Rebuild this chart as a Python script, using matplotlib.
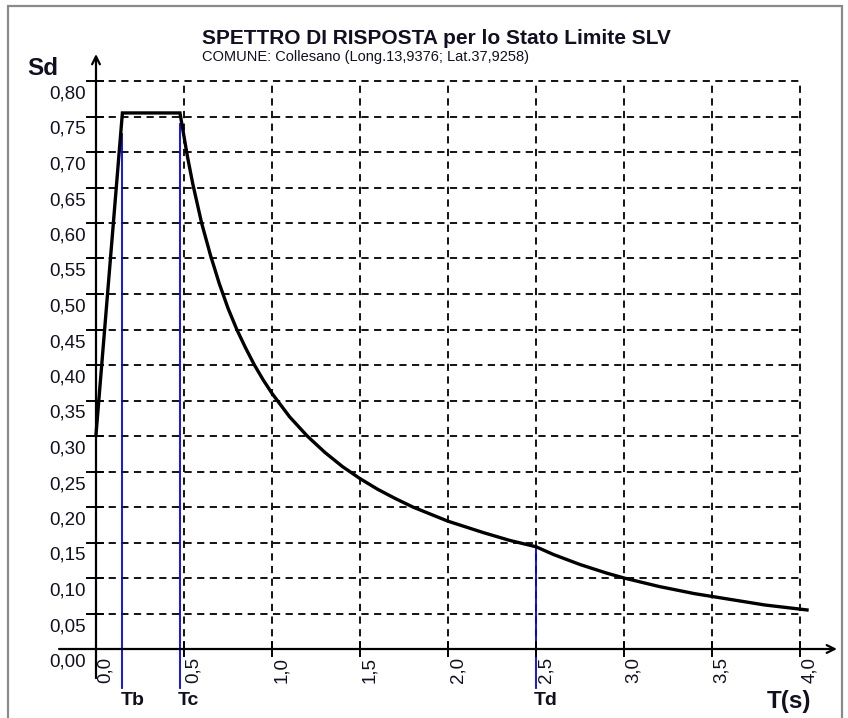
import numpy as np
import matplotlib.pyplot as plt
from matplotlib.patches import Rectangle
from matplotlib.transforms import offset_copy

plt.rcParams['font.family'] = ['Liberation Sans', 'DejaVu Sans']

# periods and spectral ordinates
T = [0.0, 0.15, 0.477, 0.52, 0.55, 0.60, 0.65, 0.70, 0.75, 0.80, 0.85, 0.90,
     0.95, 1.00, 1.10, 1.20, 1.30, 1.40, 1.50, 1.60, 1.70, 1.80, 1.90, 2.00,
     2.10, 2.20, 2.35, 2.50, 2.60, 2.75, 2.90, 3.00, 3.20, 3.40, 3.60, 3.80, 4.04]
Sd = [0.302, 0.755, 0.755, 0.693, 0.655, 0.600, 0.555, 0.515, 0.480, 0.450,
      0.424, 0.400, 0.379, 0.360, 0.327, 0.300, 0.277, 0.257, 0.240, 0.225,
      0.212, 0.200, 0.190, 0.180, 0.172, 0.164, 0.153, 0.144, 0.133, 0.119,
      0.107, 0.100, 0.088, 0.078, 0.070, 0.062, 0.055]

periods = {'Tb': 0.15, 'Tc': 0.477, 'Td': 2.50}
periods_sd = {'Tb': 0.725, 'Tc': 0.74, 'Td': 0.142}

xticks = np.arange(0, 4.01, 0.5)
yticks = np.arange(0, 0.801, 0.05)

W, H = 848, 718
fig = plt.figure(figsize=(W / 100, H / 100), dpi=100)
ax = fig.add_axes([96 / W, (H - 649) / H, (800 - 96) / W, (649 - 81) / H])
ax.set_xlim(0, 4.0)
ax.set_ylim(0, 0.80)
for s in ax.spines.values():
    s.set_visible(False)
ax.set_xticks([])
ax.set_yticks([])

ink = '#101020'

# dashed grid
for y in yticks[1:]:
    ax.plot([0, 4.0], [y, y], color='black', lw=1.3, ls=(0, (4, 3)), zorder=1, clip_on=False)
for x in xticks[1:]:
    ax.plot([x, x], [0, 0.80], color='black', lw=1.3, ls=(0, (4, 3)), zorder=1, clip_on=False)

# ticks crossing the axes
for y in yticks:
    ax.plot([-0.05, 0.04], [y, y], color='black', lw=1.4, zorder=3, clip_on=False)
for x in xticks[1:]:
    ax.plot([x, x], [-0.01, 0.01], color='black', lw=1.4, zorder=3, clip_on=False)

# axes with open arrows
ax.annotate('', xy=(4.21, 0), xytext=(-0.21, 0), xycoords='data',
            arrowprops=dict(arrowstyle='->', lw=1.6, color='black', mutation_scale=14,
                            shrinkA=0, shrinkB=0), annotation_clip=False, zorder=4)
ax.annotate('', xy=(0, 0.838), xytext=(0, -0.041), xycoords='data',
            arrowprops=dict(arrowstyle='->', lw=1.6, color='black', mutation_scale=14,
                            shrinkA=0, shrinkB=0), annotation_clip=False, zorder=4)

# tick labels
ylab_tr = offset_copy(ax.transData, fig=fig, x=-10, y=-13, units='dots')
for y in yticks:
    ax.text(0, y, f'{y:.2f}'.replace('.', ','), transform=ylab_tr, ha='right', va='center',
            fontsize=13.5, color=ink)
xlab_tr = offset_copy(ax.transData, fig=fig, x=1, y=-8, units='dots')
for x in xticks:
    ax.text(x, 0, f'{x:.1f}'.replace('.', ','), transform=xlab_tr, ha='left', va='top',
            rotation=90, fontsize=13.5, color=ink)

# characteristic periods
name_tr = offset_copy(ax.transData, fig=fig, x=-2, y=0, units='dots')
for name, tp in periods.items():
    ax.plot([tp, tp], [periods_sd[name], -0.055], color='#0000ff', lw=1.3, zorder=2, clip_on=False)
    ax.text(tp, -0.06, name, transform=name_tr, ha='left', va='top', fontsize=14,
            fontweight='bold', color=ink)

# spectrum
ax.plot(T, Sd, color='black', lw=2.4, zorder=5, clip_on=False, solid_joinstyle='miter')

# labels and title
fig.text(27 / W, 1 - 57 / H, 'Sd', fontsize=17.5, fontweight='bold', color=ink, va='top')
fig.text(767 / W, 1 - 690 / H, 'T(s)', fontsize=17.5, fontweight='bold', color=ink, va='top')
fig.text(202 / W, 1 - 44 / H, 'SPETTRO DI RISPOSTA per lo Stato Limite SLV', fontsize=15,
         fontweight='bold', color=ink, va='baseline')
fig.text(202 / W, 1 - 61 / H, 'COMUNE: Collesano (Long.13,9376; Lat.37,9258)', fontsize=10.5,
         color=ink, va='baseline')

# outer frame
fig.patches.append(Rectangle((8 / W, -0.01), (842 - 8) / W, 1 - 6 / H + 0.01,
                             transform=fig.transFigure, fill=False, ec='#8a8a8a', lw=1.6))

fig.savefig('out.png', dpi=100, facecolor='white')
